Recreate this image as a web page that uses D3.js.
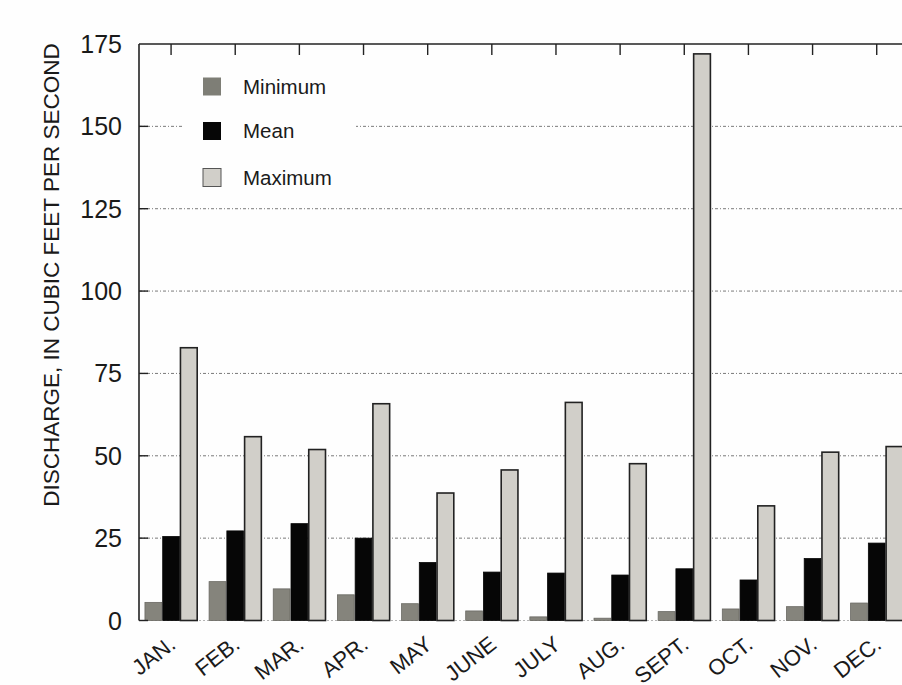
<!DOCTYPE html>
<html>
<head>
<meta charset="utf-8">
<script src="https://cdn.jsdelivr.net/npm/d3@7"></script>
<style>
  html, body { margin: 0; padding: 0; background: #fefefe; }
  svg { display: block; }
  text { font-family: "Liberation Sans", Arial, Helvetica, sans-serif; fill: #1a1a1a; }
</style>
</head>
<body>
<svg id="chart" width="902" height="685"></svg>
<script>
// Monthly discharge statistics, cubic feet per second
const months = ["JAN.", "FEB.", "MAR.", "APR.", "MAY", "JUNE", "JULY", "AUG.", "SEPT.", "OCT.", "NOV.", "DEC."];
const minimum = [5.5, 11.8, 9.6, 7.8, 5.1, 2.9, 1.1, 0.7, 2.7, 3.5, 4.2, 5.3];
const mean    = [25.5, 27.2, 29.4, 25.0, 17.6, 14.7, 14.4, 13.8, 15.7, 12.3, 18.8, 23.5];
const maximum = [82.8, 55.8, 51.9, 65.8, 38.7, 45.7, 66.2, 47.6, 172.0, 34.8, 51.1, 52.8];
const seriesNames = ["Minimum", "Mean", "Maximum"];
const yTicks = [0, 25, 50, 75, 100, 125, 150, 175];

const seriesValues = { Minimum: minimum, Mean: mean, Maximum: maximum };
const fills  = { Minimum: "#85847c", Mean: "#060606", Maximum: "#d1cfc9" };
const strokes = { Minimum: "#6a6963", Mean: "#060606", Maximum: "#222222" };

const svg = d3.select("#chart");

const plotLeft = 139, plotTop = 44, plotBottom = 620.5;
const step = 64.15;

const y = d3.scaleLinear().domain([0, 175]).range([plotBottom, plotTop]);
const x = d3.scaleBand()
  .domain(months)
  .range([plotLeft, plotLeft + step * months.length])
  .paddingInner(0.17)
  .paddingOuter(0.085);
const xs = d3.scaleBand().domain(seriesNames).range([0, x.bandwidth()]).padding(0);

// dotted horizontal grid lines
svg.append("g").selectAll("line")
  .data(yTicks.filter(v => v > 0 && v < 175))
  .join("line")
  .attr("x1", plotLeft).attr("x2", 902)
  .attr("y1", d => y(d)).attr("y2", d => y(d))
  .attr("stroke", "#7a7a7a")
  .attr("stroke-width", 1)
  .attr("stroke-dasharray", "3,2,1,2");

// faint baseline at zero
svg.append("line")
  .attr("x1", plotLeft).attr("x2", 902)
  .attr("y1", y(0)).attr("y2", y(0))
  .attr("stroke", "#b5b5b5").attr("stroke-width", 1)
  .attr("stroke-dasharray", "2,2");

// legend background hides the grid behind it
svg.append("rect")
  .attr("x", 182).attr("y", 62).attr("width", 174).attr("height", 135)
  .attr("fill", "#fefefe");

// bars
const groups = svg.append("g").selectAll("g")
  .data(months)
  .join("g")
  .attr("transform", d => `translate(${x(d)},0)`);

groups.selectAll("rect")
  .data((m, i) => seriesNames.map(s => ({ s, v: seriesValues[s][i] })))
  .join("rect")
  .attr("x", d => xs(d.s) + 0.5)
  .attr("width", xs.bandwidth() - 1)
  .attr("y", d => y(d.v))
  .attr("height", d => y(0) - y(d.v))
  .attr("fill", d => fills[d.s])
  .attr("stroke", d => strokes[d.s])
  .attr("stroke-width", d => d.s === "Maximum" ? 1.6 : 0.8);

// frame: left and top lines
svg.append("line")
  .attr("x1", plotLeft).attr("x2", plotLeft).attr("y1", plotTop).attr("y2", plotBottom)
  .attr("stroke", "#222").attr("stroke-width", 1.6);
svg.append("line")
  .attr("x1", plotLeft).attr("x2", 902).attr("y1", plotTop).attr("y2", plotTop)
  .attr("stroke", "#222").attr("stroke-width", 1.6);

// inward ticks on the left axis
svg.append("g").selectAll("line")
  .data(yTicks.filter(v => v < 175))
  .join("line")
  .attr("x1", plotLeft).attr("x2", plotLeft + 9)
  .attr("y1", d => y(d)).attr("y2", d => y(d))
  .attr("stroke", "#222").attr("stroke-width", 1.4);

// downward ticks on the top edge at month centres
svg.append("g").selectAll("line")
  .data(months)
  .join("line")
  .attr("x1", d => x(d) + x.bandwidth() / 2)
  .attr("x2", d => x(d) + x.bandwidth() / 2)
  .attr("y1", plotTop).attr("y2", plotTop + 11)
  .attr("stroke", "#222").attr("stroke-width", 1.4);

// y tick labels
svg.append("g").selectAll("text")
  .data(yTicks)
  .join("text")
  .attr("x", 122)
  .attr("y", d => y(d))
  .attr("dy", "0.36em")
  .attr("text-anchor", "end")
  .attr("font-size", 25)
  .text(d => d);

// y axis title
svg.append("text")
  .attr("transform", "translate(59,275) rotate(-90)")
  .attr("text-anchor", "middle")
  .attr("font-size", 22.5)
  .text("DISCHARGE, IN CUBIC FEET PER SECOND");

// rotated month labels
svg.append("g").selectAll("text")
  .data(months)
  .join("text")
  .attr("transform", d => `translate(${x(d) + x.bandwidth() / 2 + 6},647) rotate(-38)`)
  .attr("text-anchor", "end")
  .attr("font-size", 22)
  .text(d => d);

// legend
const legendRows = [86.5, 131, 177.5];
const legend = svg.append("g").selectAll("g")
  .data(seriesNames)
  .join("g")
  .attr("transform", (d, i) => `translate(203,${legendRows[i]})`);
legend.append("rect")
  .attr("x", 0).attr("y", -9).attr("width", 18).attr("height", 18)
  .attr("fill", d => d === "Minimum" ? "#7e7e76" : fills[d])
  .attr("stroke", d => d === "Maximum" ? "#555" : "none")
  .attr("stroke-width", 1);
legend.append("text")
  .attr("x", 40).attr("y", 0).attr("dy", "0.36em")
  .attr("font-size", 20.5)
  .text(d => d);
</script>
</body>
</html>
